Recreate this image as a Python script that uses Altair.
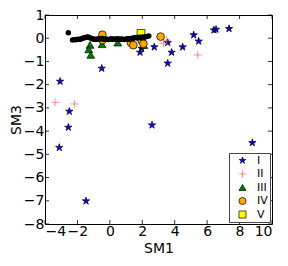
import altair as alt
import pandas as pd

# ---- data ----
I_x = [-3.07, -2.50, -2.56, -3.12, -1.47, -0.50, 1.86, 1.96, 2.74, 3.57, 3.57, 3.81, 4.49, 5.17, 5.48, 6.42, 6.55, 7.35, 8.79, 2.60]
I_y = [-1.86, -3.15, -3.84, -4.71, -7.01, -1.30, -0.61, -0.44, -0.38, -0.19, -1.08, -0.61, -0.38, 0.14, -0.13, 0.35, 0.38, 0.41, -4.50, -3.74]

II_x = [-3.38, -2.19, 3.30, 3.50, 5.42]
II_y = [-2.76, -2.83, -0.22, -0.08, -0.72]

III_x = [-1.22, -1.30, -1.18, -0.48, 0.49, 2.10]
III_y = [-0.29, -0.48, -0.72, -0.26, -0.19, -0.30]

IV_x = [-0.46, -0.46, 1.30, 1.45, 1.96, 2.07, 3.13]
IV_y = [0.15, -0.08, -0.20, -0.30, -0.10, -0.24, 0.07]

V_x = [1.92]
V_y = [0.21]

black_x = [-2.56, -2.3, -2.2, -2.1, -2.0, -1.9, -1.8, -1.7, -1.6, -1.5, -1.4, -1.3, -1.2, -1.1, -1.0,
           -0.9, -0.8, -0.7, -0.6, -0.5, -0.4, -0.3, -0.2, -0.1, 0.0, 0.1, 0.2, 0.3, 0.4, 0.5,
           0.6, 0.7, 0.8, 0.9, 1.0, 1.1, 1.2, 1.3, 1.4, 1.5, 1.6, 1.7, 1.8, 1.9, 2.0,
           2.1, 2.2, 2.3, 2.4]
black_y = [0.24, -0.08, -0.06, -0.07, -0.04, -0.05, -0.03, -0.01, 0.02, 0.03, 0.05,
           0.04, 0.01, -0.02, -0.03, -0.05, -0.04, -0.02, -0.03, -0.01, -0.04,
           -0.05, -0.03, -0.06, -0.04, -0.02, -0.05, -0.03, -0.04, -0.02, -0.05,
           -0.03, -0.04, -0.06, -0.03, -0.02, -0.04, -0.01, 0.0, 0.02, 0.03,
           0.01, 0.04, 0.02, 0.05, 0.03, 0.06, 0.08, 0.1]

x_ticks = [-4, -2, 0, 2, 4, 6, 8, 10]
y_ticks = [1, 0, -1, -2, -3, -4, -5, -6, -7, -8]

series_names = ["I", "II", "III", "IV", "V"]
fill_colors = ["#0000ff", "#ff4040", "#008000", "#ffa500", "#ffff00"]
stroke_colors = ["#000000", "#ff5c5c", "#000000", "#000000", "#000000"]

STAR = "M0,-1L0.225,-0.309L0.951,-0.309L0.363,0.118L0.588,0.809L0,0.382L-0.588,0.809L-0.363,0.118L-0.951,-0.309L-0.225,-0.309Z"
PLUS = "M-1,0H1M0,-1V1"
shapes = [STAR, PLUS, "triangle-up", "circle", "square"]

rows = []
for name, xs_, ys_ in [("I", I_x, I_y), ("II", II_x, II_y), ("III", III_x, III_y),
                       ("IV", IV_x, IV_y), ("V", V_x, V_y)]:
    for a, b in zip(xs_, ys_):
        rows.append({"series": name, "x": a, "y": b})
df = pd.DataFrame(rows)
df_black = pd.DataFrame({"x": black_x, "y": black_y})
df_xt = pd.DataFrame({"x": x_ticks})
df_yt = pd.DataFrame({"y": y_ticks})

W, H = 227, 209
xs = alt.Scale(domain=[-4, 10], nice=False, zero=False)
ys = alt.Scale(domain=[-8, 1], nice=False, zero=False)

xaxis = alt.Axis(title="SM1", values=x_ticks, ticks=False, domain=False, grid=False,
                 labelPadding=0, format="d", titlePadding=3)
yaxis = alt.Axis(title="SM3", values=y_ticks, ticks=False, domain=False, grid=False,
                 labelPadding=1, format="d", titlePadding=0)

X = alt.X("x:Q", scale=xs, axis=xaxis)
Y = alt.Y("y:Q", scale=ys, axis=yaxis)

points = alt.Chart(df).mark_point(filled=True, opacity=1, strokeWidth=0.7, size=60).encode(
    x=X,
    y=Y,
    fill=alt.Fill("series:N", scale=alt.Scale(domain=series_names, range=fill_colors),
                  legend=alt.Legend(title=None, orient="none", legendX=184, legendY=138,
                                    strokeColor="#444444", fillColor="white", padding=2,
                                    rowPadding=1.5, labelFontSize=11, symbolSize=50,
                                    symbolOffset=6, labelOffset=9,
                                    symbolStrokeWidth=0.7, offset=0)),
    stroke=alt.Stroke("series:N", scale=alt.Scale(domain=series_names, range=stroke_colors)),
    shape=alt.Shape("series:N", scale=alt.Scale(domain=series_names, range=shapes)),
)

blk = alt.Chart(df_black).mark_point(filled=True, opacity=1, color="black", size=30).encode(
    x=X, y=Y,
)

tk = dict(color="black", strokeWidth=0.8)
xb = alt.Chart(df_xt).mark_rule(**tk).encode(x=X, y=alt.value(H), y2=alt.value(H - 4))
xt = alt.Chart(df_xt).mark_rule(**tk).encode(x=X, y=alt.value(0), y2=alt.value(4))
yl = alt.Chart(df_yt).mark_rule(**tk).encode(y=Y, x=alt.value(0), x2=alt.value(4))
yr = alt.Chart(df_yt).mark_rule(**tk).encode(y=Y, x=alt.value(W), x2=alt.value(W - 4))

chart = alt.layer(points, blk, xb, xt, yl, yr).properties(
    width=W, height=H,
    autosize=alt.AutoSizeParams(type="none"),
    padding={"left": 37, "top": 7, "right": 8, "bottom": 30},
).configure_view(stroke="black", strokeWidth=1).configure_axis(
    labelFont="DejaVu Sans", titleFont="DejaVu Sans", labelFontSize=14, titleFontSize=14,
    titleFontWeight="normal", labelColor="black", titleColor="black",
).configure_legend(labelFont="DejaVu Sans", labelColor="black")

chart.save("out.html", embed_options={"renderer": "svg", "actions": False})
